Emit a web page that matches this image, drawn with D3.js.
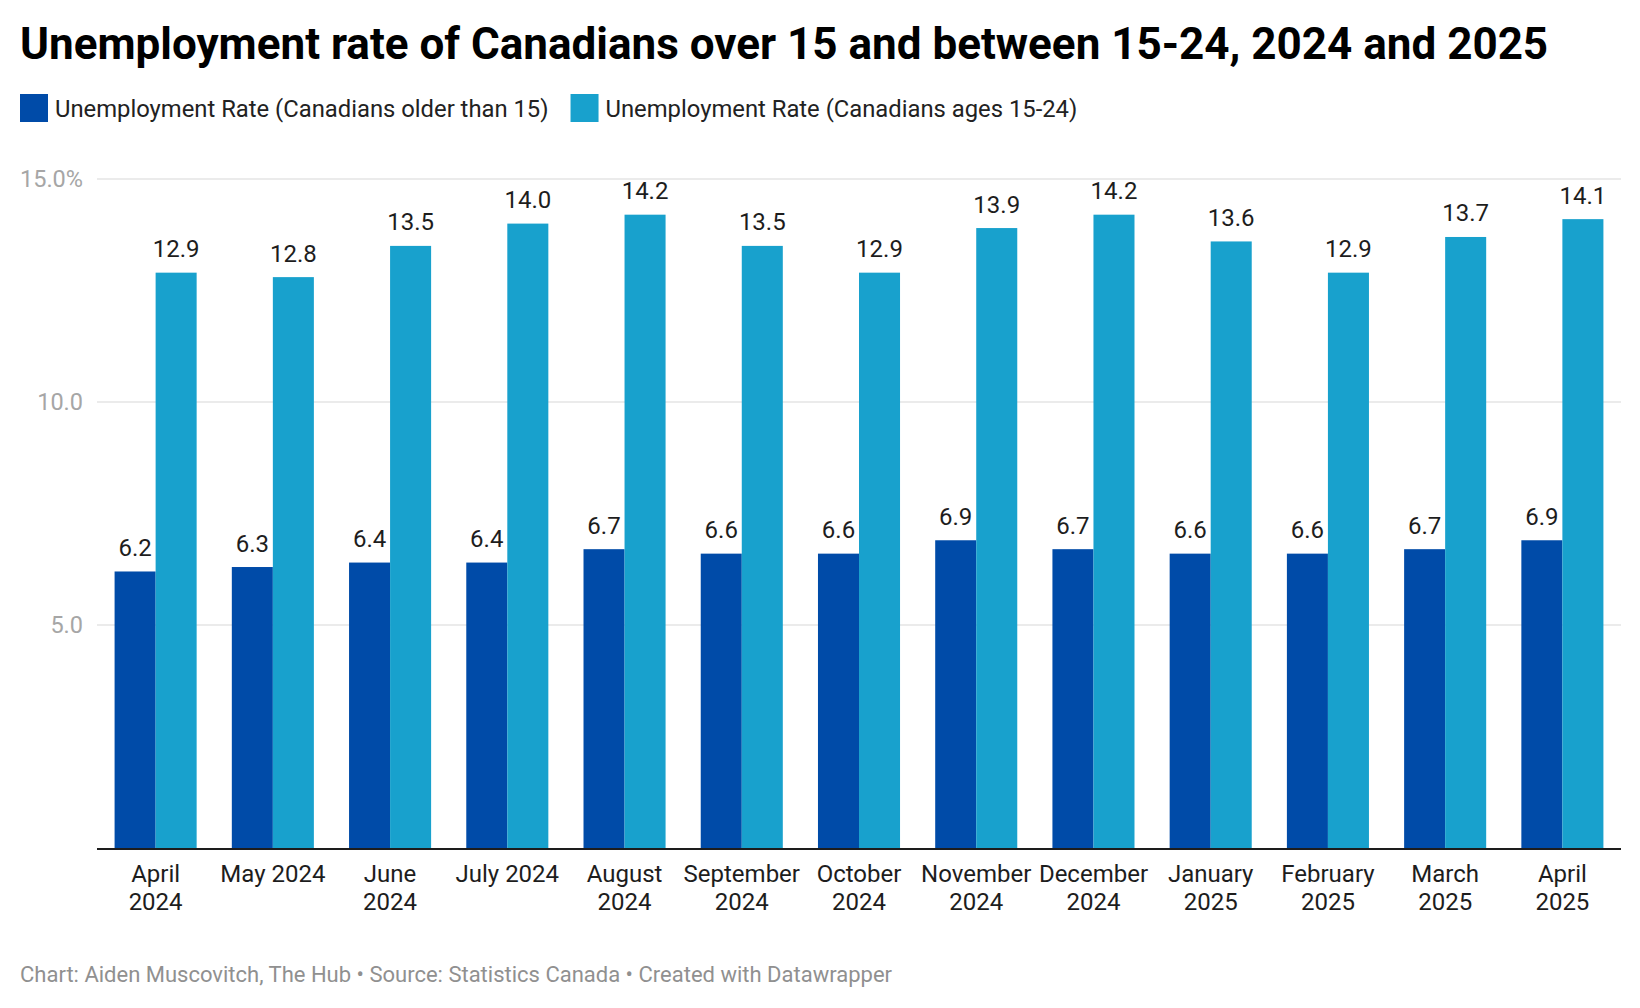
<!DOCTYPE html>
<html>
<head>
<meta charset="utf-8">
<script src="https://cdn.jsdelivr.net/npm/d3@7/dist/d3.min.js"></script>
<style>
  body { margin: 0; background: #fff; }
  svg { display: block; font-family: Roboto, "Noto Sans", sans-serif; }
</style>
</head>
<body>
<svg id="chart"></svg>
<script>
// datos
var months = ["April 2024", "May 2024", "June 2024", "July 2024", "August 2024",
  "September 2024", "October 2024", "November 2024", "December 2024",
  "January 2025", "February 2025", "March 2025", "April 2025"];
// etiquetas del eje x (como aparecen, con salto de linea)
var tickLabels = [["April", "2024"], ["May 2024"], ["June", "2024"], ["July 2024"],
  ["August", "2024"], ["September", "2024"], ["October", "2024"], ["November", "2024"],
  ["December", "2024"], ["January", "2025"], ["February", "2025"], ["March", "2025"],
  ["April", "2025"]];
var over15 = [6.2, 6.3, 6.4, 6.4, 6.7, 6.6, 6.6, 6.9, 6.7, 6.6, 6.6, 6.7, 6.9];
var ages1524 = [12.9, 12.8, 13.5, 14.0, 14.2, 13.5, 12.9, 13.9, 14.2, 13.6, 12.9, 13.7, 14.1];
var seriesNames = ["Unemployment Rate (Canadians older than 15)", "Unemployment Rate (Canadians ages 15-24)"];
var yTicks = [5, 10, 15];

var w = 1640, h = 1008,
	colors = ["#004ba8", "#18a1cd"],
	pLeft = 97, pRight = 1621, pTop = 179, pBottom = 848;

var svg = d3.select("#chart").attr("width", w).attr("height", h);

// titulo
svg.append("text")
	.attr("x", 20).attr("y", 59)
	.attr("font-size", 44).attr("font-weight", 700).attr("fill", "#000")
	.text("Unemployment rate of Canadians over 15 and between 15-24, 2024 and 2025");

// leyenda
var lx = 20;
seriesNames.forEach(function(name, i) {
	svg.append("rect").attr("x", lx).attr("y", 94).attr("width", 28).attr("height", 28).attr("fill", colors[i]);
	var t = svg.append("text").attr("x", lx + 35).attr("y", 116.5)
		.attr("font-size", 23.8).attr("fill", "#222").text(name);
	lx = lx + 35 + t.node().getComputedTextLength() + 22;
});

var x = d3.scaleBand().domain(months).range([pLeft, pRight]).paddingInner(0.3).paddingOuter(0.15);
var x1 = d3.scaleBand().domain([0, 1]).range([0, x.bandwidth()]);
var y = d3.scaleLinear().domain([0, 15]).range([pBottom, pTop]);

// rejilla
var grid = svg.append("g").attr("class", "grid");
grid.selectAll("line").data(yTicks).enter().append("line")
	.attr("x1", pLeft).attr("x2", pRight)
	.attr("y1", function(d) { return y(d); }).attr("y2", function(d) { return y(d); })
	.attr("stroke", "#e5e5e5").attr("stroke-width", 1.5);
grid.selectAll("text").data(yTicks).enter().append("text")
	.attr("x", 83).attr("y", function(d) { return y(d); })
	.attr("dy", "0.35em").attr("text-anchor", "end")
	.attr("font-size", 23.5).attr("fill", "#a6a6a6")
	.text(function(d, i) { return d.toFixed(1) + (i === yTicks.length - 1 ? "%" : ""); });

// barras
var rows = months.map(function(m, i) { return { m: m, v: [over15[i], ages1524[i]] }; });
var groups = svg.selectAll(".grupo").data(rows).enter().append("g")
	.attr("class", "grupo")
	.attr("transform", function(d) { return "translate(" + x(d.m) + ",0)"; });

groups.selectAll("rect").data(function(d) { return d.v; }).enter().append("rect")
	.attr("x", function(d, i) { return x1(i); })
	.attr("width", x1.bandwidth())
	.attr("y", function(d) { return y(d); })
	.attr("height", function(d) { return y(0) - y(d); })
	.attr("fill", function(d, i) { return colors[i]; });

groups.selectAll("text.val").data(function(d) { return d.v; }).enter().append("text")
	.attr("class", "val")
	.attr("x", function(d, i) { return x1(i) + x1.bandwidth() / 2; })
	.attr("y", function(d) { return y(d) - 15.5; })
	.attr("text-anchor", "middle").attr("font-size", 24).attr("fill", "#1d1d1d")
	.text(function(d) { return d.toFixed(1); });

// eje x
svg.append("line").attr("x1", pLeft).attr("x2", pRight)
	.attr("y1", pBottom + 1).attr("y2", pBottom + 1)
	.attr("stroke", "#1d1d1d").attr("stroke-width", 2);

var ticks = svg.selectAll(".tick").data(months).enter().append("text")
	.attr("class", "tick")
	.attr("text-anchor", "middle").attr("font-size", 24).attr("fill", "#1d1d1d");
ticks.each(function(d, i) {
	var el = d3.select(this);
	tickLabels[i].forEach(function(line, j) {
		el.append("tspan")
			.attr("x", x(d) + x.bandwidth() / 2)
			.attr("y", pBottom + 34 + j * 28)
			.text(line);
	});
});

// pie
svg.append("text").attr("x", 20).attr("y", 982)
	.attr("font-size", 22).attr("fill", "#909090")
	.text("Chart: Aiden Muscovitch, The Hub \u2022 Source: Statistics Canada \u2022 Created with Datawrapper");
</script>
</body>
</html>
